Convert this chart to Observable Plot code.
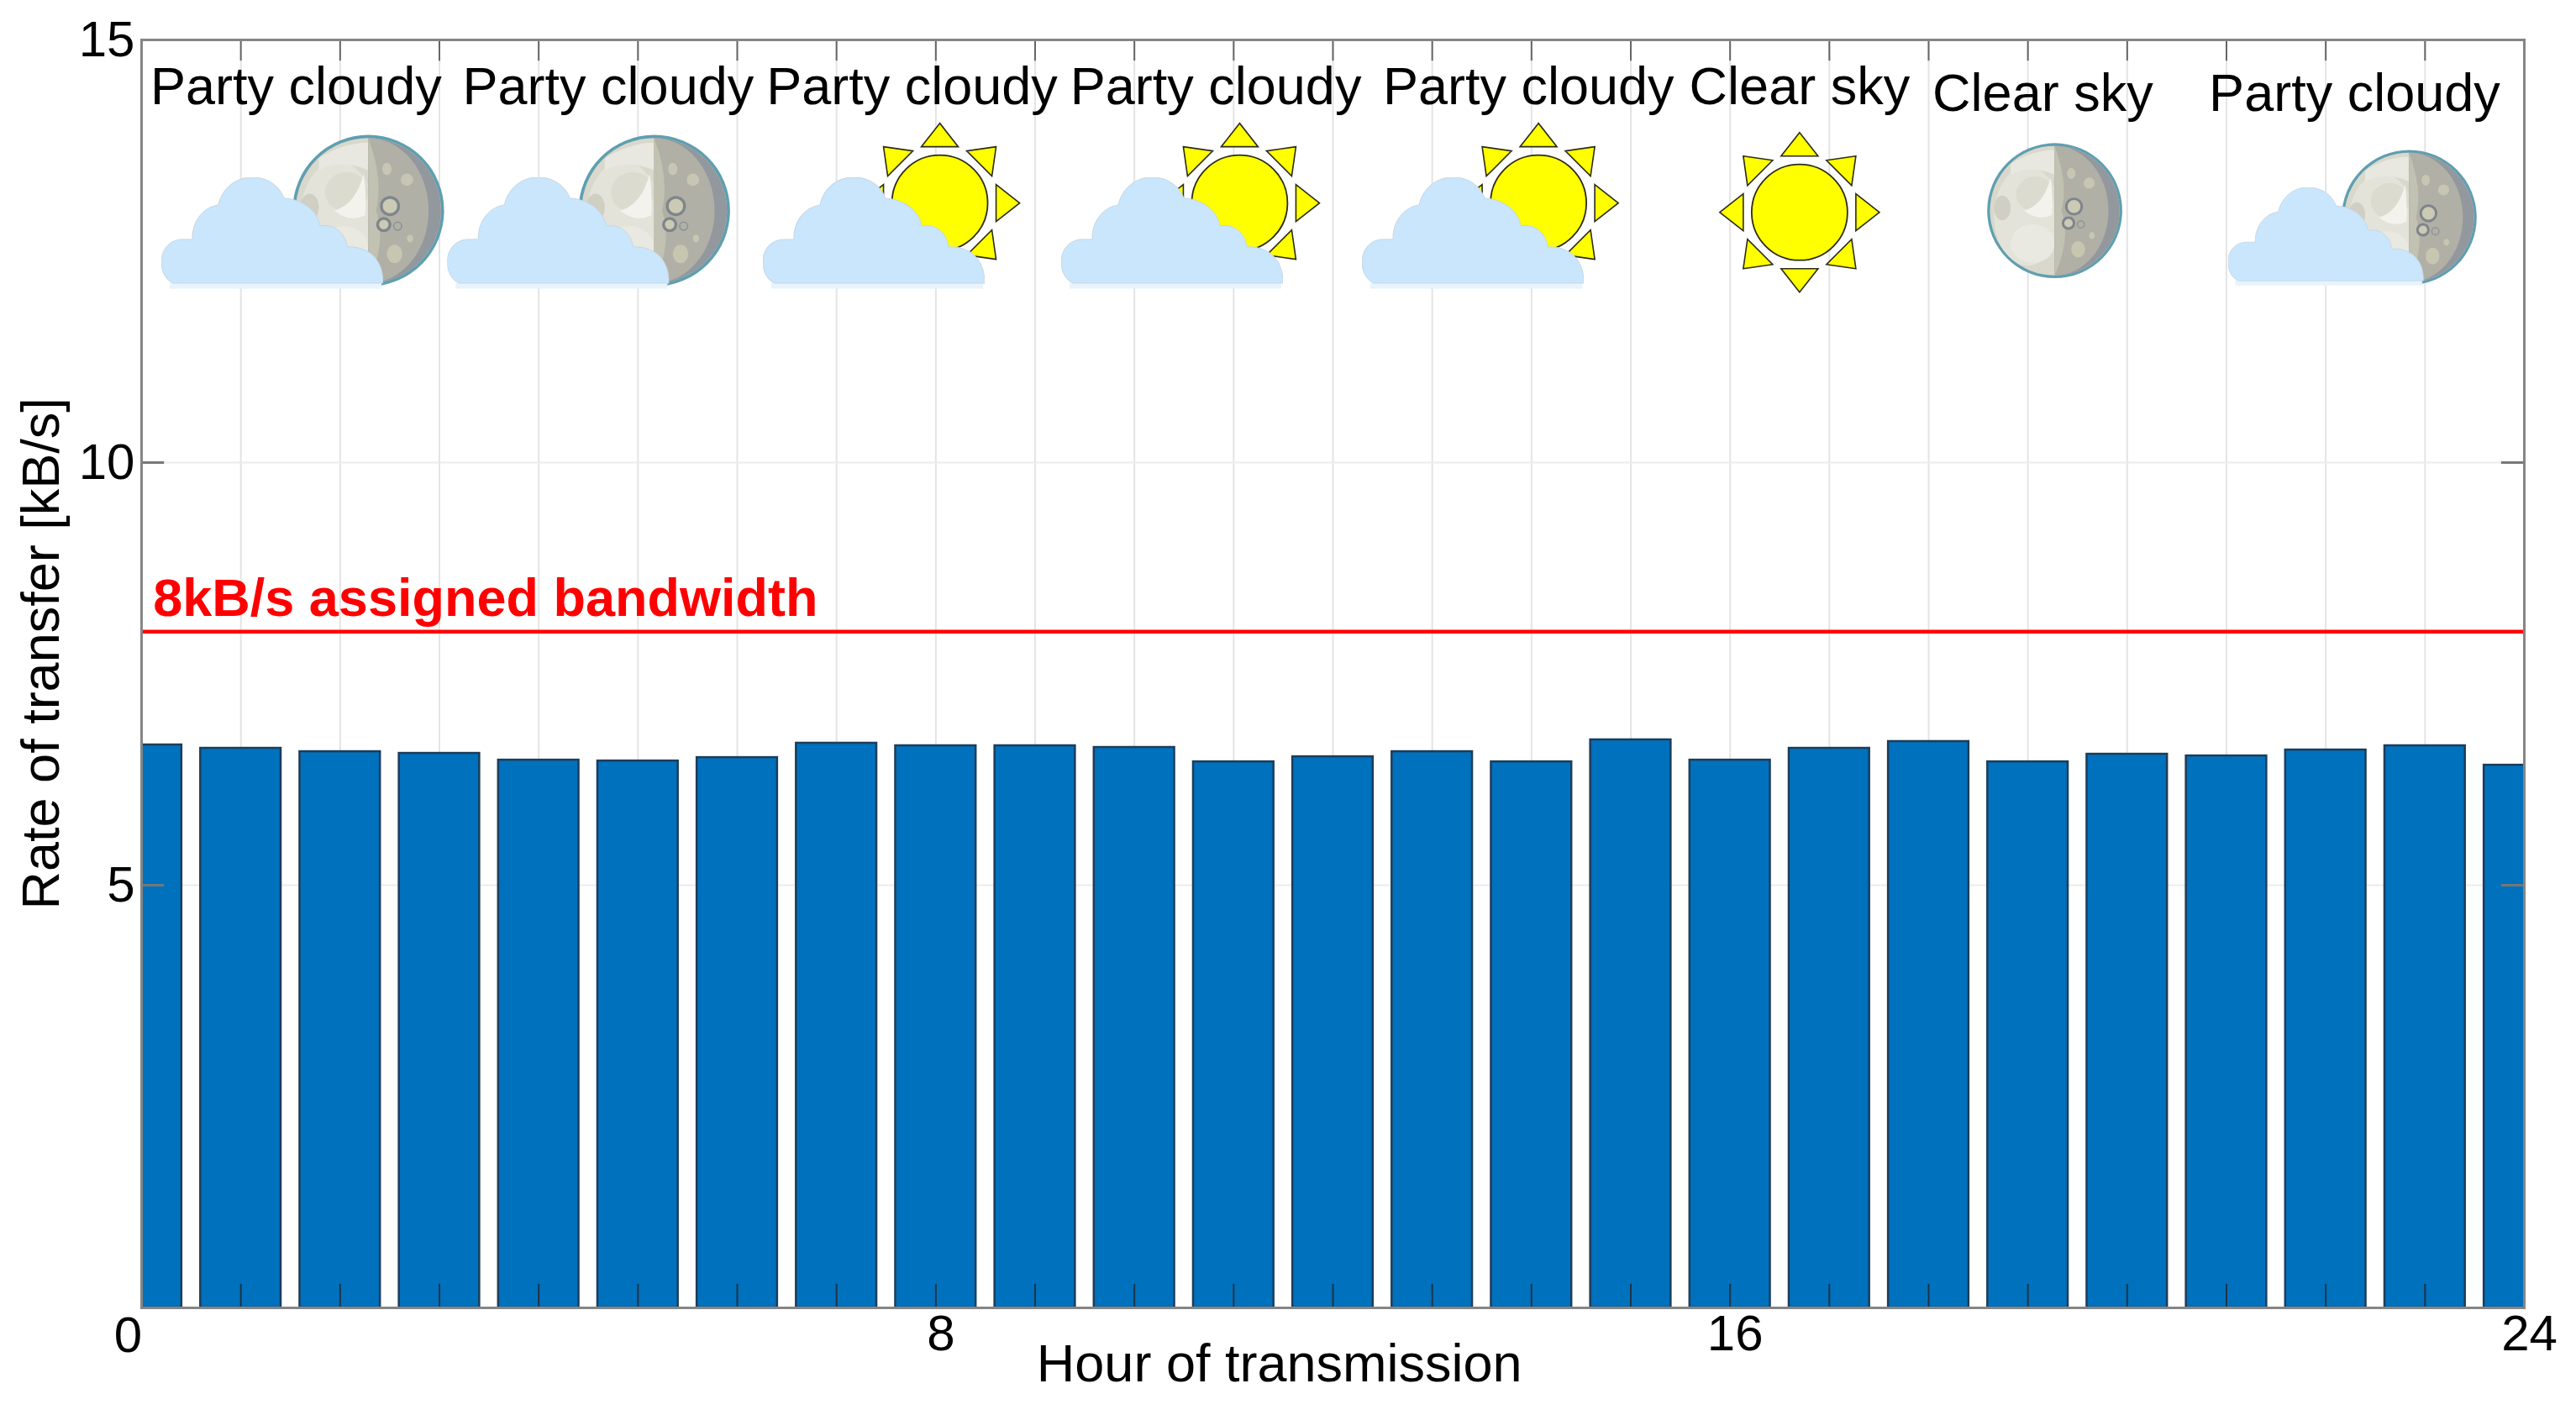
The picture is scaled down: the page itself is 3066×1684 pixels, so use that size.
<!DOCTYPE html>
<html>
<head>
<meta charset="utf-8">
<script src="https://cdn.jsdelivr.net/npm/d3@7"></script>
<script src="https://cdn.jsdelivr.net/npm/@observablehq/plot@0.6"></script>
<style>
html,body{margin:0;padding:0;background:#fff;}
svg{display:block;}
</style>
</head>
<body>
<div id="chart"></div>
<script>
const hours = d3.range(0, 25);
const rates = [6.66,6.62,6.58,6.56,6.48,6.47,6.51,6.68,6.65,6.65,6.63,6.46,6.52,6.58,6.46,6.72,6.48,6.62,6.70,6.46,6.55,6.53,6.60,6.65,6.42];
const hourTicks = [0, 8, 16, 24];
const rateTicks = [5, 10, 15];
const bandwidth = 8;
const bandwidthLabel = "8kB/s assigned bandwidth";
const xTitle = "Hour of transmission";
const yTitle = "Rate of transfer [kB/s]";
const skyLabels = ["Party cloudy","Party cloudy","Party cloudy","Party cloudy","Party cloudy","Clear sky","Clear sky","Party cloudy"];
const skyLabelHours = [1.556,4.70,7.76,10.82,13.97,16.70,19.15,22.29];
const skyLabelLevels = [14.44,14.44,14.44,14.44,14.44,14.44,14.36,14.36];
const largeMoons = [[2.284,12.98],[5.164,12.98]];
const smallMoons = [[19.27,12.98],[22.84,12.90]];
const suns = [[8.04,13.07],[11.06,13.07],[14.07,13.07],[16.70,12.96]];
const largeClouds = [[1.316,12.70],[4.196,12.70],[7.375,12.70],[10.38,12.70],[13.41,12.70]];
const smallClouds = [[22.0,12.66]];

const svgUrl = (vb, body) => "data:image/svg+xml," + encodeURIComponent(`<svg xmlns="http://www.w3.org/2000/svg" viewBox="${vb}">${body}</svg>`);

const moonIcon = svgUrl("-50 -50 100 100", `
<defs><clipPath id="c"><circle r="47"/></clipPath></defs>
<circle r="49" fill="#5f9fb0"/>
<g clip-path="url(#c)">
<rect x="-50" y="-50" width="100" height="100" fill="#d9d8cc"/>
<ellipse cx="-20" cy="4" rx="24" ry="36" fill="#e4e3da"/>
<path d="M-32 -34 Q-16 -44 0 -44 L0 -26 Q-18 -34 -32 -26Z" fill="#e8e7e0"/>
<ellipse cx="-14" cy="-12" rx="14" ry="13" fill="#dcdbcf"/>
<path d="M-3 -24 Q-1 -10 -2 3 Q-12 8 -22 0 Q-8 -4 -3 -24Z" fill="#f3f2ec"/>
<ellipse cx="-38" cy="-2" rx="6" ry="9" fill="#cfcfc4"/>
<ellipse cx="-16" cy="24" rx="16" ry="14" fill="#e9e8e1"/>
<rect x="0" y="-50" width="50" height="100" fill="#92989d"/>
<path d="M0 -47 A39 47 0 0 1 0 47Z" fill="#b0b0a6"/>
<path d="M0 -47 Q10 -20 5 0 Q12 20 0 47Z" fill="#c2c2b2"/>
<ellipse cx="25" cy="-20" rx="4" ry="4" fill="#c7c6b4"/>
<ellipse cx="12" cy="-27" rx="3" ry="4" fill="#c7c6b4"/>
<circle cx="14" cy="-3" r="5.6" fill="#cbcab4" stroke="#7f858b" stroke-width="1.8"/>
<circle cx="10" cy="9" r="4" fill="#cbcab4" stroke="#7f858b" stroke-width="1.8"/>
<circle cx="19" cy="10" r="2.6" fill="none" stroke="#8a9094" stroke-width="0.8"/>
<ellipse cx="17" cy="28" rx="5" ry="6" fill="#c7c6b0"/>
<ellipse cx="27" cy="18" rx="2" ry="2.5" fill="#c7c6b0"/>
</g>`);

const tri = pts => `<polygon points="${pts}" fill="#ffff00" stroke="#2b2b1a" stroke-width="1.6" stroke-linejoin="miter"/>`;
const sunIcon = svgUrl("-100 -100 200 200", `
<circle r="57" fill="#ffff00" stroke="#2b2b1a" stroke-width="1.8"/>
${tri("0,-95 -22,-67 22,-67")}${tri("0,95 -22,67 22,67")}${tri("95,0 67,-22 67,22")}${tri("-95,0 -67,-22 -67,22")}
${tri("67,-67 32,-62 62,-32")}${tri("-67,-67 -32,-62 -62,-32")}${tri("67,67 32,62 62,32")}${tri("-67,67 -32,62 -62,32")}`);

const cloudIcon = svgUrl("0 0 264 136", `
<path d="M10 129 L262 129" stroke="#e8f3fb" stroke-width="7"/>
<path d="M14 126 C5 122 0 112 0 101 C0 85 11 74 25 74 L37 74 C36 55 48 36 68 33 C72 14 88 0 108 0 C127 0 141 11 146 25 C168 26 186 40 189 58 C205 55 219 66 221 83 C244 82 264 95 264 126 Z" fill="#c9e6fc" stroke="#c6d6e2" stroke-width="1"/>`);

const icon = (arr, src, width, height) => Plot.image(arr, {x: d => d[0], y: d => d[1], src, width, height});

const font = "'Liberation Sans', Arial, sans-serif";

const chart = Plot.plot({
  width: 3066,
  height: 1684,
  marginLeft: 168,
  marginRight: 62,
  marginTop: 47,
  marginBottom: 128,
  style: {fontFamily: font, background: "#fff", overflow: "visible", color: "#000"},
  x: {domain: [0, 24], range: [168, 3004]},
  y: {domain: [0, 15], range: [1556, 47]},
  marks: [
    Plot.gridX(hours, {stroke: "#e4e4e4", strokeWidth: 2, strokeOpacity: 1}),
    Plot.gridY(rateTicks, {stroke: "#ececec", strokeWidth: 2, strokeOpacity: 1}),
    Plot.rectY(hours, {
      x1: d => d - 0.405,
      x2: d => d + 0.405,
      y1: 0,
      y2: (d, i) => rates[i],
      fill: "#0071bd",
      stroke: "#1c3d5a",
      strokeWidth: 2.5,
      clip: true
    }),
    Plot.ruleX(hours, {y1: 0, y2: 0.28, stroke: "#1d3448", strokeWidth: 2}),
    Plot.ruleX(hours, {y1: 15, y2: 14.75, stroke: "#666", strokeWidth: 2}),
    Plot.ruleY(rateTicks, {x1: 0, x2: 0.23, stroke: "#777", strokeWidth: 3}),
    Plot.ruleY(rateTicks, {x1: 24, x2: 23.77, stroke: "#777", strokeWidth: 3}),
    Plot.ruleY([bandwidth], {stroke: "#ff0000", strokeWidth: 4.5}),
    Plot.frame({stroke: "#858585", strokeWidth: 3}),
    Plot.axisY({
      ticks: rateTicks, tickSize: 0, tickPadding: 8, fontSize: 60, tickFormat: d => String(d), label: null
    }),
    Plot.axisX({
      ticks: hourTicks.slice(0, 1), tickSize: 0, tickPadding: 10, fontSize: 60, dx: -16,
      tickFormat: d => String(d), label: null
    }),
    Plot.axisX({
      ticks: hourTicks.slice(1), tickSize: 0, tickPadding: 8, fontSize: 60, dx: 6,
      tickFormat: d => String(d), label: null
    }),
    Plot.text([xTitle], {x: () => 11.46, y: () => -0.665, text: d => d, fontSize: 63, fill: "#000"}),
    Plot.text([yTitle], {x: () => -1.007, y: () => 7.74, text: d => d, fontSize: 63, rotate: -90, fill: "#000"}),
    icon(largeMoons, moonIcon, 184, 184),
    icon(smallMoons, moonIcon, 164, 164),
    icon(suns, sunIcon, 200, 200),
    icon(largeClouds, cloudIcon, 264, 136),
    icon(smallClouds, cloudIcon, 233, 120),
    Plot.text(skyLabels, {
      x: (d, i) => skyLabelHours[i],
      y: (d, i) => skyLabelLevels[i],
      text: d => d,
      fontSize: 63,
      fill: "#000"
    }),
    Plot.text([bandwidthLabel], {
      x: () => 0.116, y: () => 8.385, text: d => d,
      textAnchor: "start", fontSize: 63, fontWeight: "bold", fill: "#ff0000"
    })
  ]
});
document.getElementById("chart").append(chart);
</script>
</body>
</html>
